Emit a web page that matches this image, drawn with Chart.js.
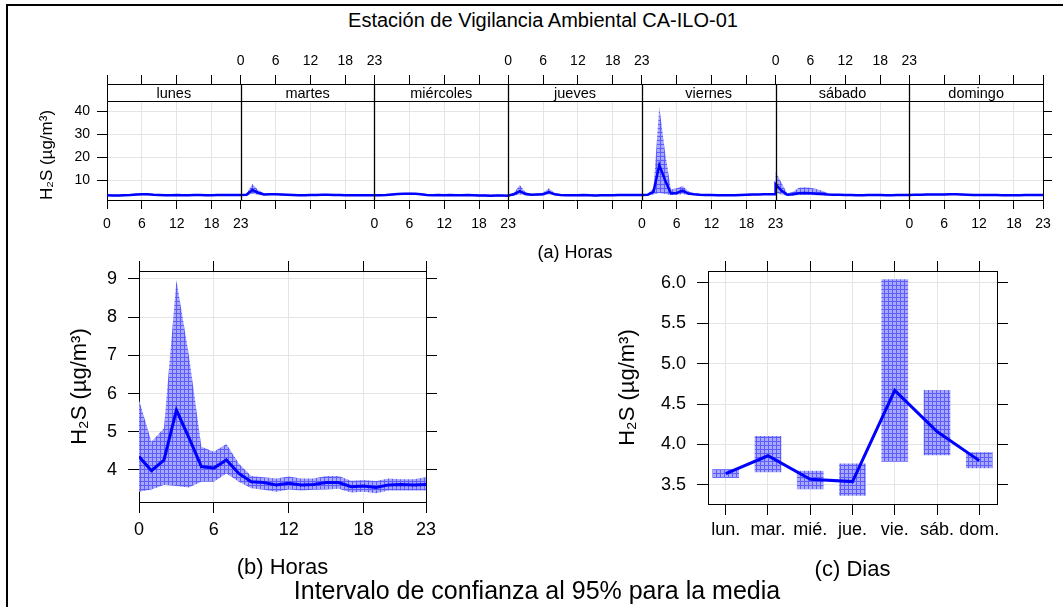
<!DOCTYPE html>
<html>
<head>
<meta charset="utf-8">
<script src="https://cdn.jsdelivr.net/npm/chart.js@4.4.1/dist/chart.umd.min.js"></script>
<style>
  body { margin: 0; background: #fff; font-family: "Liberation Sans", Arial, sans-serif; }
  #page { position: relative; width: 1063px; height: 607px; overflow: hidden; background: #fff; }
  #frame { position: absolute; left: 6px; top: 4px; width: 1100px; height: 700px; border-left: 2px solid #000; border-top: 2px solid #000; }
  canvas { position: absolute; }
  .txt { position: absolute; text-align: center; color: #000; white-space: nowrap; }
</style>
</head>
<body>
<div id="page">
  <div id="frame"></div>
  <div class="txt" style="left:243px;width:600px;top:9px;font-size:20px;line-height:22px;">Estación de Vigilancia Ambiental CA-ILO-01</div>
  <canvas id="week" width="1063" height="230" style="left:0;top:40px"></canvas>
  <canvas id="hour" width="540" height="358" style="left:0;top:249px"></canvas>
  <canvas id="day" width="523" height="358" style="left:540px;top:249px"></canvas>
  <div class="txt" style="left:237px;width:600px;top:576px;font-size:25px;line-height:28px;">Intervalo de confianza al 95% para la media</div>
</div>
<script>
// --- data ---
const dayNames = ['lunes', 'martes', 'miércoles', 'jueves', 'viernes', 'sábado', 'domingo'];
const dayShort = ['lun.', 'mar.', 'mié.', 'jue.', 'vie.', 'sáb.', 'dom.'];
const panelHourTicks = [0, 6, 12, 18, 23];
const hourTicks = [0, 6, 12, 18, 23];
const weekYTicks = [10, 20, 30, 40];
const hourYTicks = [4, 5, 6, 7, 8, 9];
const dayYTicks = [3.5, 4.0, 4.5, 5.0, 5.5, 6.0];

// day x hour (24 per day, lunes..domingo)
const weekMean = [
  3.5, 3.4, 3.4, 3.5, 3.6, 3.8, 3.9, 3.9, 3.7, 3.6, 3.5, 3.5, 3.6, 3.5, 3.5, 3.6, 3.6, 3.5, 3.5, 3.6, 3.6, 3.6, 3.6, 3.6,
  3.6, 3.7, 5.8, 4.6, 3.8, 3.9, 3.9, 3.8, 3.7, 3.6, 3.5, 3.5, 3.6, 3.6, 3.7, 3.7, 3.6, 3.6, 3.5, 3.5, 3.5, 3.5, 3.5, 3.5,
  3.5, 3.5, 3.6, 3.8, 4.0, 4.1, 4.2, 4.1, 3.9, 3.6, 3.5, 3.6, 3.5, 3.6, 3.5, 3.5, 3.6, 3.5, 3.4, 3.4, 3.3, 3.4, 3.4, 3.3,
  3.4, 3.9, 5.3, 4.0, 3.7, 3.8, 3.9, 4.9, 3.9, 3.6, 3.5, 3.5, 3.5, 3.6, 3.5, 3.4, 3.5, 3.5, 3.5, 3.6, 3.6, 3.6, 3.6, 3.6,
  3.6, 3.7, 5.0, 16.6, 10.0, 4.3, 4.5, 5.5, 4.2, 3.9, 3.7, 3.6, 3.6, 3.5, 3.5, 3.5, 3.5, 3.6, 3.7, 3.8, 3.8, 3.9, 3.9, 3.9,
  8.3, 5.5, 3.7, 3.9, 4.4, 4.5, 4.4, 4.2, 4.0, 3.8, 3.7, 3.7, 3.6, 3.6, 3.5, 3.5, 3.6, 3.6, 3.6, 3.5, 3.5, 3.6, 3.6, 3.6,
  3.6, 3.7, 3.7, 3.8, 3.8, 3.8, 3.8, 3.9, 3.9, 3.8, 3.7, 3.6, 3.6, 3.6, 3.6, 3.6, 3.5, 3.5, 3.5, 3.5, 3.6, 3.6, 3.6, 3.6
];
const weekLower = [
  3.2, 3.1, 3.1, 3.2, 3.3, 3.4, 3.5, 3.5, 3.4, 3.3, 3.2, 3.2, 3.3, 3.2, 3.2, 3.3, 3.3, 3.2, 3.2, 3.3, 3.3, 3.3, 3.3, 3.3,
  3.3, 3.3, 4.1, 3.7, 3.4, 3.6, 3.6, 3.5, 3.4, 3.3, 3.2, 3.2, 3.3, 3.3, 3.4, 3.4, 3.3, 3.3, 3.2, 3.2, 3.2, 3.2, 3.2, 3.2,
  3.2, 3.2, 3.3, 3.4, 3.6, 3.7, 3.8, 3.7, 3.5, 3.3, 3.2, 3.3, 3.2, 3.3, 3.2, 3.2, 3.3, 3.2, 3.1, 3.1, 3.0, 3.1, 3.1, 3.0,
  3.1, 3.4, 3.8, 3.5, 3.3, 3.4, 3.4, 3.9, 3.5, 3.3, 3.2, 3.2, 3.2, 3.3, 3.2, 3.1, 3.2, 3.2, 3.2, 3.3, 3.3, 3.3, 3.3, 3.3,
  3.3, 3.3, 3.8, 4.5, 4.0, 3.6, 3.6, 4.0, 3.6, 3.5, 3.4, 3.3, 3.3, 3.2, 3.2, 3.2, 3.2, 3.3, 3.4, 3.5, 3.5, 3.6, 3.6, 3.6,
  4.5, 3.8, 3.3, 3.4, 3.6, 3.6, 3.6, 3.5, 3.5, 3.4, 3.4, 3.4, 3.3, 3.3, 3.2, 3.2, 3.3, 3.3, 3.3, 3.2, 3.2, 3.3, 3.3, 3.3,
  3.3, 3.4, 3.4, 3.5, 3.5, 3.5, 3.5, 3.6, 3.6, 3.5, 3.4, 3.3, 3.3, 3.3, 3.3, 3.3, 3.2, 3.2, 3.2, 3.2, 3.3, 3.3, 3.3, 3.3
];
const weekUpper = [
  3.8, 3.7, 3.7, 3.8, 3.9, 4.2, 4.3, 4.3, 4.0, 3.9, 3.8, 3.8, 3.9, 3.8, 3.8, 3.9, 3.9, 3.8, 3.8, 3.9, 3.9, 3.9, 3.9, 3.9,
  3.9, 4.2, 8.4, 5.8, 4.3, 4.2, 4.2, 4.1, 4.0, 3.9, 3.8, 3.8, 3.9, 3.9, 4.0, 4.0, 3.9, 3.9, 3.8, 3.8, 3.8, 3.8, 3.8, 3.8,
  3.8, 3.8, 3.9, 4.2, 4.4, 4.5, 4.6, 4.5, 4.3, 3.9, 3.8, 3.9, 3.8, 3.9, 3.8, 3.8, 3.9, 3.8, 3.8, 3.9, 3.7, 3.8, 3.7, 3.6,
  3.7, 4.6, 7.9, 4.8, 4.2, 4.3, 4.6, 6.5, 4.4, 3.9, 3.8, 3.8, 3.8, 3.9, 3.8, 3.7, 3.8, 3.8, 3.8, 3.9, 3.9, 3.9, 3.9, 3.9,
  3.9, 4.2, 6.5, 42.0, 22.0, 6.0, 6.5, 7.5, 5.2, 4.3, 4.0, 3.9, 3.9, 3.8, 3.8, 3.8, 3.8, 3.9, 4.0, 4.1, 4.1, 4.2, 4.2, 4.2,
  13.7, 9.0, 4.3, 5.0, 6.8, 7.0, 6.8, 6.2, 5.4, 4.4, 4.0, 4.0, 3.9, 3.9, 3.8, 3.8, 3.9, 3.9, 3.9, 3.8, 3.8, 3.9, 3.9, 3.9,
  3.9, 4.0, 4.0, 4.1, 4.1, 4.1, 4.1, 4.2, 4.2, 4.1, 4.0, 3.9, 3.9, 3.9, 3.9, 3.9, 3.8, 3.8, 3.8, 3.8, 3.9, 3.9, 3.9, 3.9
];

const hourMean  = [4.35, 3.98, 4.26, 5.57, 4.85, 4.09, 4.05, 4.26, 3.91, 3.69, 3.67, 3.61, 3.65, 3.61, 3.62, 3.67, 3.67, 3.56, 3.58, 3.54, 3.61, 3.62, 3.61, 3.62];
const hourUpper = [5.83, 4.74, 5.09, 8.97, 7.00, 4.61, 4.48, 4.68, 4.17, 3.84, 3.81, 3.78, 3.83, 3.78, 3.78, 3.84, 3.84, 3.72, 3.74, 3.71, 3.78, 3.76, 3.76, 3.81];
const hourLower = [3.43, 3.49, 3.61, 3.58, 3.54, 3.69, 3.69, 3.91, 3.69, 3.52, 3.48, 3.43, 3.49, 3.46, 3.48, 3.49, 3.51, 3.41, 3.43, 3.39, 3.46, 3.46, 3.46, 3.46];

const dayMean  = [3.64, 3.86, 3.57, 3.54, 4.67, 4.16, 3.80];
const dayLower = [3.59, 3.66, 3.45, 3.37, 3.79, 3.87, 3.71];
const dayUpper = [3.69, 4.10, 3.67, 3.76, 6.04, 4.67, 3.90];

// axis limits (lattice pads the data range)
const weekYMin = 1.43, weekYMax = 51.87, weekPanelTop = 44.48;
const hourYMin = 3.162, hourYMax = 9.209;
const dayYMin = 3.263, dayYMax = 6.147, dayXMin = 0.58, dayXMax = 7.42;

// --- setup ---
const FONT = '"Liberation Sans", Arial, sans-serif';
Chart.defaults.font.family = FONT;
Chart.defaults.color = '#000';
const gridGrey = '#e4e4e4';
const lineBlue = '#0000ff';
const yTitle = 'H₂S (µg/m³)';

function hatch() {
  const c = document.createElement('canvas');
  c.width = 4; c.height = 4;
  const g = c.getContext('2d');
  g.fillStyle = '#a9a9fc';
  g.fillRect(0, 0, 4, 4);
  g.fillStyle = '#5c5cff';
  g.fillRect(0, 0, 4, 1);
  g.fillRect(0, 0, 1, 4);
  return g.createPattern(c, 'repeat');
}
const band = hatch();

const setTicks = list => scale => { scale.ticks = list.map(v => ({ value: v })); };
const common = {
  responsive: false,
  animation: false,
  events: [],
  layout: { padding: 0 },
  plugins: { legend: { display: false }, tooltip: { enabled: false } }
};

// --- (a) week panels ---
const panelSpan = panelHourTicks[panelHourTicks.length - 1];
const weekTickValues = [];
dayNames.forEach((_, d) => panelHourTicks.forEach(h => {
  if (h < panelSpan || d === dayNames.length - 1) weekTickValues.push(d * panelSpan + h);
}));

function weekHourLabel(v, shownDays) {
  const d = Math.floor(v / panelSpan), h = v - d * panelSpan;
  if (h === 0 && d > 0) {
    if (shownDays.includes(d)) return '0';
    return shownDays.includes(d - 1) ? String(panelSpan) : '';
  }
  return shownDays.includes(d) ? String(h) : '';
}

const weekPoints = arr => arr.map((v, i) => ({ x: Math.floor(i / 24) * panelSpan + (i % 24), y: v }));

const stripPlugin = {
  id: 'strips',
  beforeDatasetsDraw(chart) {
    const { ctx, chartArea: a, scales } = chart;
    const sb = Math.round(scales.y.getPixelForValue(weekPanelTop));
    ctx.save();
    ctx.fillStyle = '#fff';
    ctx.fillRect(a.left + 1, a.top + 1, a.right - a.left - 2, sb - a.top - 1);
    ctx.strokeStyle = '#000';
    ctx.lineWidth = 1;
    ctx.beginPath();
    ctx.moveTo(a.left, sb + 0.5);
    ctx.lineTo(a.right, sb + 0.5);
    ctx.stroke();
    ctx.fillStyle = '#000';
    ctx.font = '14.5px ' + FONT;
    ctx.textAlign = 'center';
    ctx.textBaseline = 'middle';
    dayNames.forEach((name, d) => {
      const x0 = scales.x.getPixelForValue(d * panelSpan);
      const x1 = scales.x.getPixelForValue((d + 1) * panelSpan);
      ctx.fillText(name, (x0 + x1) / 2, (a.top + sb) / 2 + 1);
    });
    ctx.restore();
  },
  afterDatasetsDraw(chart) {
    const { ctx, chartArea: a, scales } = chart;
    ctx.save();
    ctx.strokeStyle = '#000';
    ctx.lineWidth = 1.3;
    for (let d = 1; d < dayNames.length; d++) {
      const x = Math.round(scales.x.getPixelForValue(d * panelSpan)) + 0.5;
      ctx.beginPath();
      ctx.moveTo(x, a.top);
      ctx.lineTo(x, a.bottom);
      ctx.stroke();
    }
    ctx.restore();
  }
};

const weekX = {
  type: 'linear', min: 0, max: dayNames.length * panelSpan, bounds: 'data',
  afterBuildTicks: setTicks(weekTickValues)
};
const weekYBase = { type: 'linear', min: weekYMin, max: weekYMax, bounds: 'data', afterBuildTicks: setTicks(weekYTicks) };

new Chart(document.getElementById('week'), {
  type: 'line',
  data: {
    datasets: [
      { data: weekPoints(weekMean), borderColor: lineBlue, borderWidth: 2.5, pointRadius: 0, tension: 0, fill: false },
      { data: weekPoints(weekUpper), borderWidth: 0, pointRadius: 0, tension: 0, backgroundColor: band, fill: '+1' },
      { data: weekPoints(weekLower), borderWidth: 0, pointRadius: 0, tension: 0, fill: false }
    ]
  },
  options: {
    ...common,
    scales: {
      x: {
        ...weekX, position: 'bottom',
        ticks: { autoSkip: false, maxRotation: 0, padding: 7, font: { size: 14 }, callback: v => weekHourLabel(v, [0, 2, 4, 6]) },
        grid: { color: c => (c.tick && c.tick.value % panelSpan === 0) ? 'rgba(0,0,0,0)' : gridGrey, tickColor: '#000', tickLength: 9 },
        border: { color: '#000' },
        title: { display: true, text: '(a) Horas', font: { size: 18 }, padding: { top: 0, bottom: 6 } },
        afterFit: s => { s.height = 70; }
      },
      x2: {
        ...weekX, position: 'top',
        ticks: { autoSkip: false, maxRotation: 0, padding: 5, font: { size: 14 }, callback: v => weekHourLabel(v, [1, 3, 5]) },
        grid: { drawOnChartArea: false, tickColor: '#000', tickLength: 9 },
        border: { color: '#000' },
        afterFit: s => { s.height = 44; }
      },
      y: {
        ...weekYBase, position: 'left',
        ticks: { padding: 7, font: { size: 14 } },
        grid: { color: gridGrey, tickColor: '#000', tickLength: 10 },
        border: { color: '#000' },
        title: { display: true, text: yTitle, align: 'start', font: { size: 17 }, padding: { top: 37, bottom: 0 } },
        afterFit: s => { s.width = 107; }
      },
      y2: {
        ...weekYBase, position: 'right',
        ticks: { display: false },
        grid: { drawOnChartArea: false, tickColor: '#000', tickLength: 9 },
        border: { color: '#000' },
        afterFit: s => { s.width = 20; }
      }
    }
  },
  plugins: [stripPlugin]
});

// --- (b) hours ---
const hourX = { type: 'linear', min: hourTicks[0], max: hourTicks[hourTicks.length - 1], bounds: 'data', afterBuildTicks: setTicks(hourTicks) };
const hourYBase = { type: 'linear', min: hourYMin, max: hourYMax, bounds: 'data', afterBuildTicks: setTicks(hourYTicks) };
const hourPoints = arr => arr.map((v, h) => ({ x: h, y: v }));

new Chart(document.getElementById('hour'), {
  type: 'line',
  data: {
    datasets: [
      { data: hourPoints(hourMean), borderColor: lineBlue, borderWidth: 3, pointRadius: 0, tension: 0, fill: false },
      { data: hourPoints(hourUpper), borderWidth: 0, pointRadius: 0, tension: 0, backgroundColor: band, fill: '+1' },
      { data: hourPoints(hourLower), borderWidth: 0, pointRadius: 0, tension: 0, fill: false }
    ]
  },
  options: {
    ...common,
    scales: {
      x: {
        ...hourX, position: 'bottom',
        ticks: { autoSkip: false, maxRotation: 0, padding: 6, font: { size: 18 } },
        grid: { color: gridGrey, tickColor: '#000', tickLength: 11 },
        border: { color: '#000' },
        title: { display: true, text: '(b) Horas', font: { size: 22 }, padding: { top: 0, bottom: 26 } },
        afterFit: s => { s.height = 105; }
      },
      x2: {
        ...hourX, position: 'top',
        ticks: { display: false },
        grid: { drawOnChartArea: false, tickColor: '#000', tickLength: 10 },
        border: { color: '#000' },
        afterFit: s => { s.height = 22; }
      },
      y: {
        ...hourYBase, position: 'left',
        ticks: { padding: 11, font: { size: 18 } },
        grid: { color: gridGrey, tickColor: '#000', tickLength: 11 },
        border: { color: '#000' },
        title: { display: true, text: yTitle, font: { size: 22 }, padding: { top: 67, bottom: 0 } },
        afterFit: s => { s.width = 139; }
      },
      y2: {
        ...hourYBase, position: 'right',
        ticks: { display: false },
        grid: { drawOnChartArea: false, tickColor: '#000', tickLength: 11 },
        border: { color: '#000' },
        afterFit: s => { s.width = 114; }
      }
    }
  }
});

// --- (c) days ---
const dayIdx = dayShort.map((_, i) => i + 1);
const dayX = { type: 'linear', min: dayXMin, max: dayXMax, bounds: 'data', offset: false, afterBuildTicks: setTicks(dayIdx) };
const dayYBase = { type: 'linear', min: dayYMin, max: dayYMax, bounds: 'data', afterBuildTicks: setTicks(dayYTicks) };

new Chart(document.getElementById('day'), {
  type: 'bar',
  data: {
    datasets: [
      { type: 'line', data: dayMean.map((v, i) => ({ x: dayIdx[i], y: v })), borderColor: lineBlue, borderWidth: 3, pointRadius: 0, tension: 0, fill: false },
      { type: 'bar', data: dayLower.map((lo, i) => ({ x: dayIdx[i], y: [lo, dayUpper[i]] })), backgroundColor: band, borderWidth: 0, barThickness: 26, grouped: false }
    ]
  },
  options: {
    ...common,
    scales: {
      x: {
        ...dayX, position: 'bottom',
        ticks: { autoSkip: false, maxRotation: 0, padding: 4, font: { size: 18 }, callback: v => dayShort[v - 1] },
        grid: { offset: false, color: gridGrey, tickColor: '#000', tickLength: 11 },
        border: { color: '#000' },
        title: { display: true, text: '(c) Dias', font: { size: 22 }, padding: { top: 0, bottom: 24 } },
        afterFit: s => { s.height = 103; }
      },
      x2: {
        ...dayX, position: 'top',
        ticks: { display: false },
        grid: { offset: false, drawOnChartArea: false, tickColor: '#000', tickLength: 10 },
        border: { color: '#000' },
        afterFit: s => { s.height = 22; }
      },
      y: {
        ...dayYBase, position: 'left',
        ticks: { padding: 11, font: { size: 18 }, callback: v => v.toFixed(1) },
        grid: { color: gridGrey, tickColor: '#000', tickLength: 11 },
        border: { color: '#000' },
        title: { display: true, text: yTitle, font: { size: 22 }, padding: { top: 75, bottom: 0 } },
        afterFit: s => { s.width = 168; }
      },
      y2: {
        ...dayYBase, position: 'right',
        ticks: { display: false },
        grid: { drawOnChartArea: false, tickColor: '#000', tickLength: 11 },
        border: { color: '#000' },
        afterFit: s => { s.width = 66; }
      }
    }
  }
});
</script>
</body>
</html>
